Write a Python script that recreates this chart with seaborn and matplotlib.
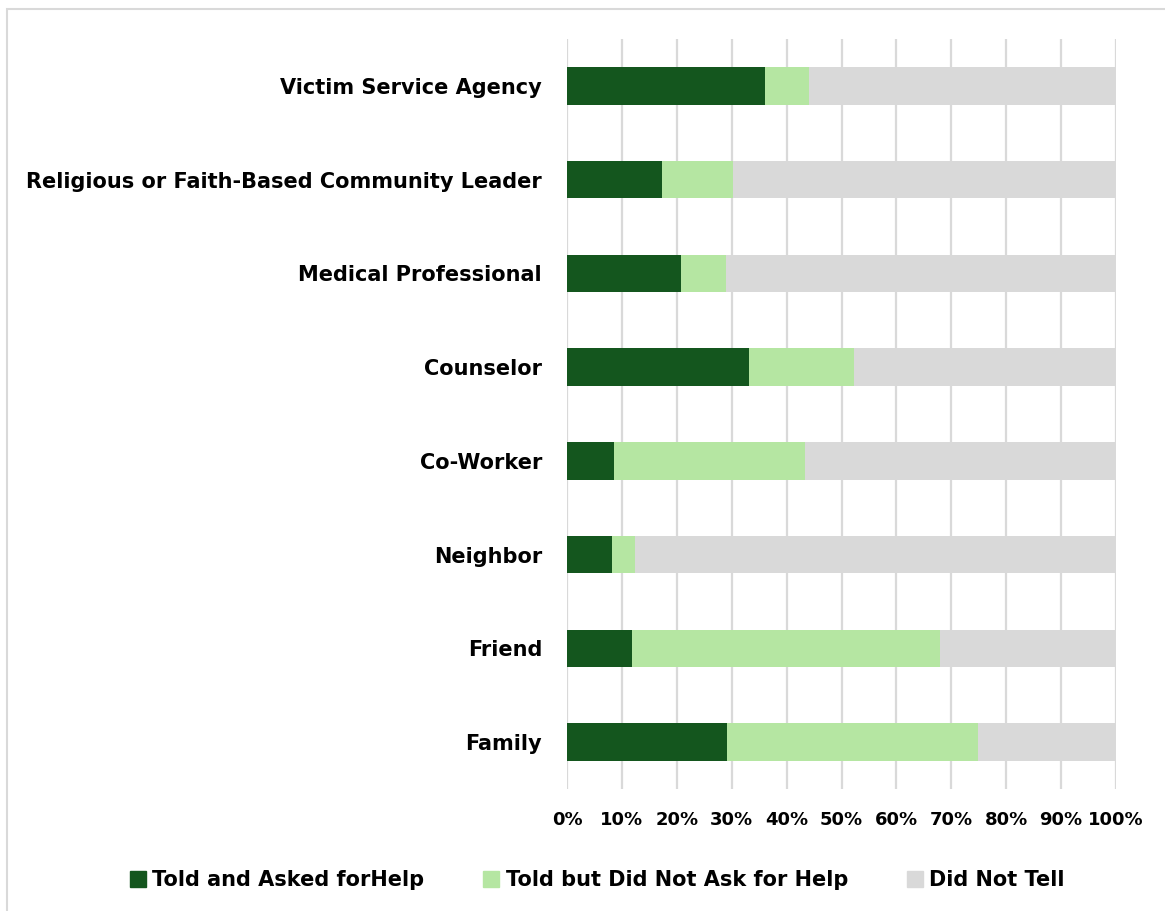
import matplotlib
matplotlib.use("Agg")
import matplotlib.pyplot as plt
from matplotlib.patches import Rectangle
from matplotlib.lines import Line2D
import seaborn as sns
import pandas as pd
import numpy as np

# Who survivors told, and whether they asked for help (percent of respondents)
categories = ["Victim Service Agency", "Religious or Faith-Based Community Leader",
              "Medical Professional", "Counselor", "Co-Worker", "Neighbor",
              "Friend", "Family"]
told_asked = [36.0, 17.3, 20.7, 33.2, 8.6, 8.2, 11.8, 29.1]
told_not_asked = [8.0, 13.0, 8.3, 19.1, 34.8, 4.2, 56.1, 45.8]
did_not_tell = [56.0, 69.7, 71.0, 47.7, 56.6, 87.6, 32.1, 25.1]

series_names = ["Told and Asked forHelp", "Told but Did Not Ask for Help", "Did Not Tell"]
colors = ["#14561E", "#B5E6A2", "#D9D9D9"]
tick_labels = ["0%", "10%", "20%", "30%", "40%", "50%", "60%", "70%", "80%", "90%", "100%"]

df = pd.DataFrame({
    "category": categories,
    "asked": told_asked,
    "not_asked": told_not_asked,
    "not_told": did_not_tell,
})
df["cum1"] = df["asked"]
df["cum2"] = df["asked"] + df["not_asked"]
df["cum3"] = df["cum2"] + df["not_told"]

sns.set_theme(style="white")
plt.rcParams["font.family"] = ["DejaVu Sans"]
plt.rcParams["text.color"] = "black"

fig = plt.figure(figsize=(11.65, 9.11), dpi=100)
ax = fig.add_axes([567 / 1165, 1 - 789 / 911, (1116 - 567) / 1165, (789 - 39) / 911])

# Stacked bars: draw cumulative totals from the back to the front
for col, color in zip(["cum3", "cum2", "cum1"], colors[::-1]):
    sns.barplot(data=df, x=col, y="category", order=categories, color=color,
                orient="h", width=0.4, saturation=1, linewidth=0, ax=ax, zorder=3)

ax.set_xlim(0, 100)
ax.set_xticks(np.arange(0, 101, 10))
ax.set_xticklabels(tick_labels, fontsize=13, fontweight="bold", color="black")
ax.tick_params(axis="x", length=0, pad=16)
ax.tick_params(axis="y", length=0, pad=18)
for lbl in ax.get_yticklabels():
    lbl.set_fontsize(15)
    lbl.set_fontweight("bold")
    lbl.set_color("black")
ax.set_xlabel("")
ax.set_ylabel("")
ax.grid(axis="x", color="#D9D9D9", linewidth=1.6, zorder=0)
ax.set_axisbelow(True)
for s in ax.spines.values():
    s.set_visible(False)

handles = [Line2D([0], [0], marker="s", linestyle="none", markersize=11,
                  markerfacecolor=c, markeredgecolor=c) for c in colors]
fig.legend(handles, series_names, loc="center", bbox_to_anchor=(597 / 1165, 1 - 880 / 911),
           ncol=3, frameon=False, handlelength=0.8, handletextpad=0.3, columnspacing=2.8,
           labelcolor="black", prop={"size": 15, "weight": "bold"})

# Light frame around the whole chart
fig.patches.append(Rectangle((7 / 1165, -0.01), 1.02, 1 - 9 / 911 + 0.01,
                             transform=fig.transFigure, fill=False,
                             edgecolor="#D9D9D9", linewidth=1.5))

fig.savefig("out.png", dpi=100)
